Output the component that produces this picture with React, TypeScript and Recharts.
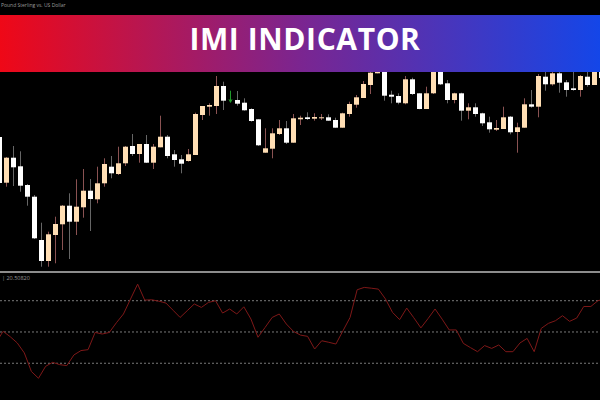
import { ComposedChart, Bar, Line, XAxis, YAxis, ReferenceLine } from "recharts";

// GBP/USD candles (one bar every 7px)
const opens = [
  1.2133, 1.20873, 1.21123, 1.21037, 1.2085, 1.20733, 1.203, 1.2009, 1.2035, 1.20457,
  1.20643, 1.20483, 1.20627, 1.20793, 1.20707, 1.20867, 1.21033, 1.2096, 1.21067, 1.2124,
  1.2116, 1.2126, 1.21073, 1.21227, 1.21333, 1.21157, 1.21107, 1.2109, 1.2115, 1.2155,
  1.21633, 1.2164, 1.2184, 1.2169, 1.217, 1.21673, 1.2161, 1.21507, 1.21173, 1.21213,
  1.2136, 1.21417, 1.21273, 1.21507, 1.21527, 1.21513, 1.21517, 1.21527, 1.215, 1.21423,
  1.2156, 1.21653, 1.2172, 1.2185, 1.21967, 1.2202, 1.21753, 1.2174, 1.21667, 1.21907,
  1.21767, 1.2161, 1.21767, 1.2198, 1.21867, 1.217, 1.21767, 1.21593, 1.21627, 1.21567,
  1.21477, 1.21403, 1.2141, 1.21533, 1.2138, 1.21423, 1.21657, 1.21633, 1.21933, 1.21857,
  1.21967, 1.21877, 1.21817, 1.218, 1.21933, 1.2185, 1.22,
];
const highs = [
  1.2138, 1.2113, 1.2124, 1.21187, 1.2086, 1.2075, 1.20473, 1.20383, 1.20533, 1.2065,
  1.20767, 1.20907, 1.2101, 1.2091, 1.21033, 1.21117, 1.2114, 1.21233, 1.2124, 1.2136,
  1.2126, 1.2135, 1.2126, 1.21543, 1.2135, 1.212, 1.2115, 1.2121, 1.21573, 1.2164,
  1.21667, 1.2194, 1.21883, 1.21793, 1.2179, 1.21717, 1.21617, 1.21507, 1.21417, 1.21417,
  1.215, 1.2149, 1.2156, 1.21543, 1.21577, 1.21567, 1.2156, 1.21557, 1.21523, 1.21573,
  1.21683, 1.2175, 1.2189, 1.2202, 1.2208, 1.2205, 1.21793, 1.21767, 1.2194, 1.21923,
  1.21767, 1.21833, 1.2204, 1.2202, 1.219, 1.21773, 1.21773, 1.21667, 1.21667, 1.21573,
  1.21533, 1.215, 1.21633, 1.2154, 1.21473, 1.21717, 1.218, 1.2196, 1.2202, 1.22,
  1.2202, 1.219, 1.2202, 1.2195, 1.2202, 1.2204, 1.2202,
];
const lows = [
  1.2085, 1.20833, 1.2084, 1.20783, 1.20643, 1.2031, 1.20033, 1.20033, 1.20067, 1.202,
  1.2011, 1.2035, 1.20523, 1.2039, 1.20667, 1.20833, 1.20917, 1.2095, 1.2104, 1.2114,
  1.21073, 1.2107, 1.2101, 1.21227, 1.21117, 1.21033, 1.20967, 1.21083, 1.2115, 1.215,
  1.21543, 1.2156, 1.216, 1.21677, 1.21643, 1.21593, 1.21483, 1.2124, 1.21173, 1.21117,
  1.2135, 1.2126, 1.21273, 1.2145, 1.215, 1.21493, 1.215, 1.21493, 1.21423, 1.21423,
  1.21533, 1.21623, 1.2172, 1.2176, 1.21967, 1.21693, 1.21667, 1.21657, 1.21657, 1.2175,
  1.21607, 1.2161, 1.2176, 1.2185, 1.21667, 1.21667, 1.21493, 1.21507, 1.21533, 1.2144,
  1.21373, 1.2139, 1.2141, 1.21357, 1.21173, 1.21423, 1.21623, 1.21527, 1.21793, 1.21843,
  1.21773, 1.21733, 1.21793, 1.21733, 1.21833, 1.2185, 1.2188,
];
const closes = [
  1.2087, 1.21123, 1.21027, 1.20843, 1.20733, 1.20317, 1.2009, 1.20357, 1.2046, 1.20643,
  1.20483, 1.20633, 1.20793, 1.2071, 1.20867, 1.2106, 1.20967, 1.21067, 1.21233, 1.2116,
  1.2126, 1.21073, 1.21233, 1.21333, 1.2114, 1.211, 1.21063, 1.21157, 1.2156, 1.2164,
  1.2165, 1.2184, 1.21693, 1.21685, 1.21663, 1.21597, 1.2149, 1.21247, 1.21217, 1.21367,
  1.21417, 1.21273, 1.21517, 1.21523, 1.2151, 1.2153, 1.21527, 1.21493, 1.21423, 1.21567,
  1.2166, 1.21727, 1.2186, 1.21973, 1.22, 1.21743, 1.21733, 1.21673, 1.21907, 1.2176,
  1.2161, 1.21767, 1.2199, 1.21857, 1.217, 1.21767, 1.21593, 1.21627, 1.2156, 1.21467,
  1.21407, 1.2142, 1.21527, 1.21377, 1.21427, 1.21657, 1.21633, 1.2194, 1.21857, 1.21967,
  1.21873, 1.218, 1.218, 1.2194, 1.2185, 1.22, 1.2192,
];
// IMI oscillator (0-100)
const imi = [
  43.2, 50.4, 47.0, 43.0, 36.6, 24.7, 20.4, 28.0, 30.6, 29.1,
  28.5, 35.3, 38.1, 38.7, 49.7, 48.7, 49.7, 55.9, 61.5, 71.1,
  80.6, 70.4, 70.6, 69.7, 68.5, 63.9, 59.3, 63.6, 67.9, 65.7,
  68.9, 70.0, 62.1, 64.7, 61.5, 66.1, 58.3, 46.6, 52.9, 59.3,
  61.5, 55.1, 50.4, 48.0, 47.2, 39.1, 44.4, 43.4, 42.3, 50.8,
  59.3, 77.0, 78.5, 78.0, 77.4, 71.1, 62.5, 57.9, 65.3, 59.1,
  52.6, 58.5, 64.7, 58.2, 51.3, 51.3, 42.7, 40.0, 37.4, 41.3,
  39.5, 41.7, 37.4, 37.4, 43.0, 45.9, 37.4, 52.3, 55.5, 57.2,
  60.4, 56.8, 58.9, 66.3, 66.3, 70.0, 71.1,
];
const imiLevels = [30, 50, 70];
const signalBar = 33; // green arrow bar

const data = opens.map((open, i) => ({
  bar: i + 1,
  open,
  close: closes[i],
  high: highs[i],
  low: lows[i],
  range: [lows[i], highs[i]],
  imi: imi[i],
}));

const Candle = (props: any) => {
  const { x, y, width, height, payload, index } = props;
  const top = height >= 0 ? y : y + height;
  const h = Math.abs(height);
  const span = payload.high - payload.low;
  const k = span > 0 ? h / span : 0;
  const cx = x + width / 2;
  if (index === signalBar) {
    return (
      <g>
        <line x1={cx} x2={cx} y1={top} y2={top + h} stroke="#1f9a2a" strokeWidth={1} />
        <path d={`M${cx - 1.5},${top + h - 3} L${cx},${top + h} L${cx + 1.5},${top + h - 3}`} stroke="#1f9a2a" fill="none" strokeWidth={1} />
      </g>
    );
  }
  const bull = payload.close >= payload.open;
  const bodyTop = top + (payload.high - Math.max(payload.open, payload.close)) * k;
  const bodyH = Math.max(1, Math.abs(payload.open - payload.close) * k);
  return (
    <g>
      <line x1={cx} x2={cx} y1={top} y2={top + h} stroke={bull ? "#8a5252" : "#666666"} strokeWidth={1} />
      <rect x={x} y={bodyTop} width={width} height={bodyH} fill={bull ? "#FFDEB4" : "#FFFFFF"} />
    </g>
  );
};

export default function App() {
  return (
    <div
      style={{
        position: "absolute",
        left: 0,
        top: 0,
        width: 600,
        height: 400,
        background: "#000",
        overflow: "hidden",
        fontFamily: "Open Sans",
      }}
    >
      <div style={{ position: "absolute", left: -4, top: 0 }}>
        <ComposedChart width={609} height={270} data={data} margin={{ top: 0, right: 0, left: 0, bottom: 0 }}>
          <XAxis dataKey="bar" hide />
          <YAxis hide domain={[1.2, 1.227]} allowDataOverflow />
          <Bar dataKey="range" barSize={5} shape={Candle} isAnimationActive={false} />
        </ComposedChart>
      </div>

      <div style={{ position: "absolute", left: 0, top: 271, width: 600, height: 2, background: "#8c8c8c" }} />

      <div style={{ position: "absolute", left: -4, top: 276 }}>
        <ComposedChart width={609} height={124} data={data} margin={{ top: 0, right: 0, left: 0, bottom: 0 }}>
          <XAxis dataKey="bar" hide />
          <YAxis hide domain={[6.5, 85.8]} allowDataOverflow />
          {imiLevels.map((v) => (
            <ReferenceLine key={v} y={v} stroke="#7a7a7a" strokeDasharray="2 2" />
          ))}
          <Line dataKey="imi" stroke="#7e1818" strokeWidth={1} dot={false} isAnimationActive={false} />
        </ComposedChart>
      </div>

      <div style={{ position: "absolute", left: 2, top: 274, fontSize: 5.5, color: "#9a9a9a", whiteSpace: "nowrap" }}>
        | 20.50820
      </div>
      <div style={{ position: "absolute", left: 1, top: 2, fontSize: 5, lineHeight: "7px", color: "#9a9a9a", whiteSpace: "nowrap" }}>
        Pound Sterling vs. US Dollar
      </div>

      <div
        style={{
          position: "absolute",
          left: 0,
          top: 15,
          width: 600,
          height: 57,
          background: "linear-gradient(90deg, #EF0817 0%, #7B2590 50%, #1446E8 100%)",
        }}
      />
      <div
        style={{
          position: "absolute",
          left: 5,
          top: 24,
          width: 600,
          textAlign: "center",
          fontSize: 30,
          lineHeight: "30px",
          fontWeight: 700,
          letterSpacing: 0.6,
          color: "#fff",
          whiteSpace: "nowrap",
        }}
      >
        IMI INDICATOR
      </div>
    </div>
  );
}
